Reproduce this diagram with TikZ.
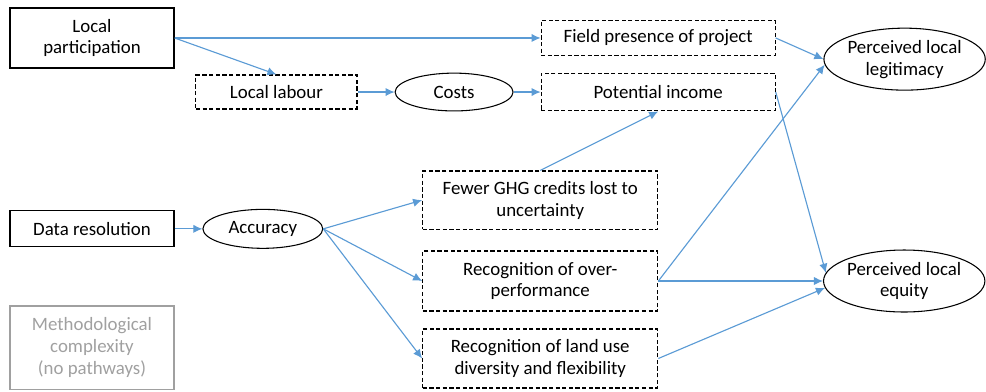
\documentclass[tikz,border=0pt]{standalone}
\usepackage{fontspec}
\setmainfont{Carlito}
\usetikzlibrary{shapes.geometric, arrows.meta}
\definecolor{pathblue}{RGB}{91,155,213}
\definecolor{lightgrey}{RGB}{160,160,160}
\tikzstyle{driver} = [rectangle, 
minimum width=4.34cm, 
align=center, 
draw=black, 
line width=0.9pt]
\tikzstyle{pathway} = [rectangle, 
align=center, 
draw=black, 
dash pattern=on 3.2pt off 1.8pt, 
line width=0.85pt]
\tikzstyle{effect} = [ellipse, 
align=center, 
inner sep=0pt, 
draw=black, 
line width=0.8pt]
\tikzstyle{link} = [-{Latex[length=2.4mm,width=2.2mm]}, draw=pathblue, line width=0.85pt]

\begin{document}
\begin{tikzpicture}[node distance=2cm, font=\fontsize{14.2}{16.5}\selectfont]
\useasboundingbox (-2.434,1.005) rectangle (23.654,-9.366);

\node (lp) [driver, minimum height=1.59cm] {Local\\participation};
\node (ll) [pathway, right of=lp, xshift=2.88cm, yshift=-1.43cm, minimum width=4.26cm, minimum height=0.9cm] {Local labour};
\node (costs) [effect, right of=ll, xshift=2.70cm, minimum width=3.12cm, minimum height=1.0cm] {Costs};
\node (pi) [pathway, right of=costs, xshift=3.40cm, minimum width=6.19cm, minimum height=1.0cm] {Potential income};
\node (fp) [pathway, above of=pi, yshift=-0.57cm, minimum width=6.19cm, minimum height=0.93cm] {Field presence of project};
\node (leg) [effect, right of=pi, xshift=4.52cm, yshift=0.87cm, minimum width=4.21cm, minimum height=1.64cm] {Perceived local\\legitimacy};

\node (dr) [driver, below of=lp, yshift=-3.05cm, minimum height=0.95cm] {Data resolution};
\node (acc) [effect, right of=dr, xshift=2.52cm, minimum width=3.17cm, minimum height=1.03cm] {Accuracy};
\node (rop) [pathway, right of=acc, xshift=5.34cm, yshift=-1.38cm, minimum width=6.22cm, minimum height=1.59cm] {Recognition of over-\\performance};
\node (ghg) [pathway, above of=rop, yshift=0.14cm, minimum width=6.22cm, minimum height=1.54cm] {Fewer GHG credits lost to\\uncertainty};
\node (rlu) [pathway, below of=rop, yshift=-0.05cm, minimum width=6.22cm, minimum height=1.56cm] {Recognition of land use\\diversity and flexibility};
\node (eq) [effect, right of=rop, xshift=7.63cm, minimum width=4.21cm, minimum height=1.64cm] {Perceived local\\equity};

\node (mc) [driver, below of=dr, yshift=-1.14cm, minimum height=2.2cm, draw=lightgrey, text=lightgrey] {Methodological\\complexity\\(no pathways)};

\draw[link] (lp.east) to (fp.west);
\draw[link] (lp.east) to (ll.north);
\draw[link] (ll.east) to (costs.west);
\draw[link] (costs.east) to (pi.west);
\draw[link] (fp.east) to (leg.west);
\draw[link] (pi.east) to (eq.174);
\draw[link] (ghg.north) to (pi.south);

\draw[link] (dr.east) to (acc.west);
\draw[link] (acc.east) to (ghg.west);
\draw[link] (acc.east) to (rop.west);
\draw[link] (acc.east) to (rlu.west);

\draw[link] (rop.east) to (leg.184);
\draw[link] (rop.east) to (eq.west);
\draw[link] (rlu.east) to (eq.185);

\end{tikzpicture}
\end{document}
